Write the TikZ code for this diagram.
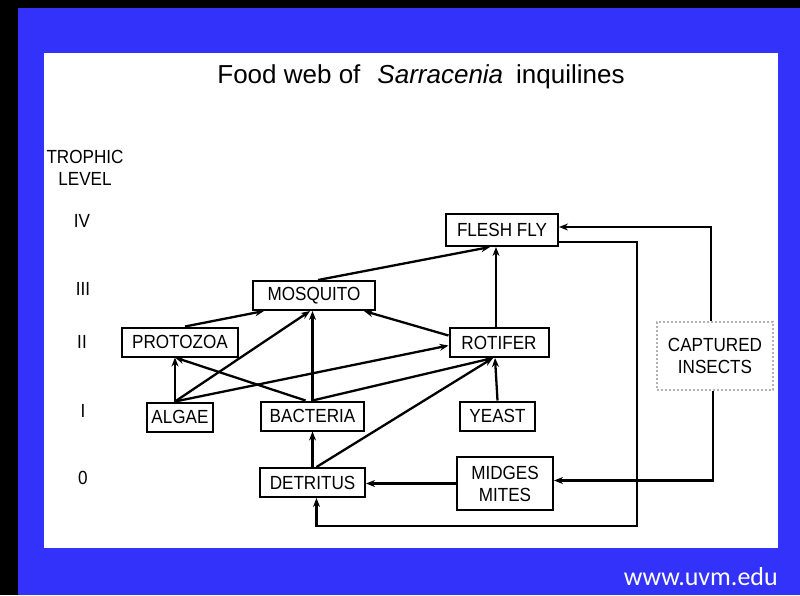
\documentclass[tikz,border=0pt]{standalone}
\usepackage{tikz}
\usetikzlibrary{arrows.meta}
\usepackage{fontspec}
\setmainfont{Liberation Sans}
\newfontfamily\narrowfont[FakeStretch=0.9]{Liberation Sans}
\newfontfamily\urlfont{Carlito}
\definecolor{slideblue}{RGB}{50,50,250}
\tikzset{>={Stealth[length=9pt,width=7pt]},
  box/.style={draw, line width=2pt, inner sep=0pt, minimum height=29pt, align=center, font=\narrowfont\fontsize{19}{22}\selectfont},
  level/.style={align=center, inner sep=0pt, font=\narrowfont\fontsize{19}{22}\selectfont},
  link/.style={->, line width=2.3pt}}

\begin{document}
\begin{tikzpicture}[x=1pt, y=-1pt]
    \fill (0,0) rectangle (800,595);
    \fill[slideblue] (18,8) rectangle (800,595);
    \fill[white] (44,53) rectangle (778,548);
    \node[font=\fontsize{26}{30}\selectfont, anchor=base, inner sep=0pt] (title) at (421,83) {Food web of\hspace{17pt}\textit{Sarracenia}\hspace{13pt}inquilines};
    \node[level] (trophic) at (85,168) {TROPHIC\\LEVEL};
    \node[level] (lvfour) at (82,221) {IV};
    \node[level] (lvthree) at (83,289) {III};
    \node[level] (lvtwo) at (82,342) {II};
    \node[level] (lvone) at (83,411) {I};
    \node[level] (lvzero) at (83,478) {0};
    \node[box, minimum width=112pt, minimum height=32pt] (fly) at (502,230) {FLESH FLY};
    \node[box, minimum width=122pt] (mosquito) at (314,295.5) {MOSQUITO};
    \node[box, minimum width=99pt] (rotifer) at (499,342.5) {ROTIFER};
    \node[box, minimum width=116pt] (protozoa) at (180,342) {PROTOZOA};
    \node[box, minimum width=66pt] (algae) at (180,417) {ALGAE};
    \node[box, minimum width=103pt] (bacteria) at (312.5,416) {BACTERIA};
    \node[box, minimum width=75pt] (yeast) at (497.5,416) {YEAST};
    \node[box, minimum width=105pt] (detritus) at (312.5,482.5) {DETRITUS};
    \node[box, minimum width=96pt, minimum height=53pt] (midges) at (505,483.5) {MIDGES\\MITES};
    \node[box, draw=gray!60, dotted, minimum width=116pt, minimum height=68pt] (insects) at (715,356) {CAPTURED\\INSECTS};
    \node[font=\urlfont\fontsize{26}{30}\selectfont, text=white, anchor=base east, inner sep=0pt] (url) at (778,585) {www.uvm.edu};
    \coordinate (corner) at (637,526);
    \draw[link] ([xshift=-5pt]algae.north) -- ([xshift=-5pt]protozoa.south);
    \draw[link] ([xshift=-5pt]algae.north) -- ([xshift=-4pt]mosquito.south);
    \draw[link] ([xshift=-5pt]algae.north) -- ([yshift=-3pt]rotifer.west);
    \draw[link] ([xshift=-7pt]bacteria.north) -- ([xshift=-5pt]protozoa.south);
    \draw[link] (bacteria.north) -- (bacteria.north |- mosquito.south);
    \draw[link] (bacteria.north) -- ([xshift=-6pt]rotifer.south);
    \draw[link] ([xshift=5pt]protozoa.north) -- ([xshift=-50pt]mosquito.south);
    \draw[link] ([yshift=7pt]rotifer.west) -- ([xshift=-12pt]mosquito.south east);
    \draw[link] ([xshift=4pt]mosquito.north) -- ([xshift=-12pt]fly.south);
    \draw[link] ([xshift=-3pt]rotifer.north) -- ([xshift=-6pt]fly.south);
    \draw[link] (yeast.north) -- ([xshift=-4pt]rotifer.south);
    \draw[link] (detritus.north) -- (bacteria.south);
    \draw[link] ([xshift=4pt]detritus.north) -- ([xshift=-6pt]rotifer.south);
    \draw[link] (midges.west) -- (midges.west -| detritus.east);
    \draw[link] ([xshift=-4pt]insects.north) |- ([yshift=3pt]fly.east);
    \draw[link] ([xshift=-2pt]insects.south) |- ([yshift=3pt]midges.east);
    \draw[link] ([yshift=-12pt]fly.east) -| (corner) -| ([xshift=4pt]detritus.south);
\end{tikzpicture}
\end{document}
